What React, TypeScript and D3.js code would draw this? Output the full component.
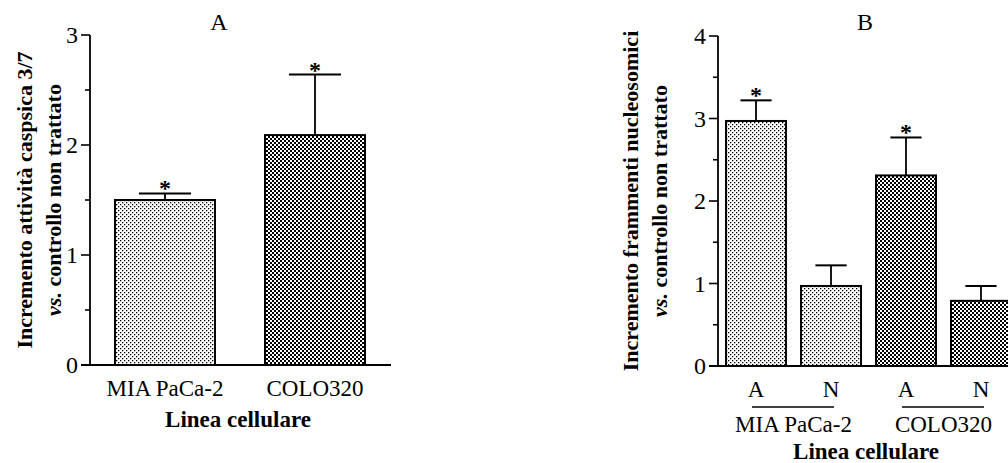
import React from "react";
import * as d3 from "d3";

// ---------- Data ----------
const catsA = ["MIA PaCa-2", "COLO320"];
const valuesA = [1.5, 2.09];
const errorsA = [0.06, 0.55];
const sigA = [true, true];
const patternsA = ["dots", "checks"];

const catsB = ["A", "N", "A", "N"];
const groupsB = ["MIA PaCa-2", "COLO320"];
const groupOfB = [0, 0, 1, 1];
const valuesB = [2.97, 0.97, 2.31, 0.79];
const errorsB = [0.25, 0.25, 0.46, 0.18];
const sigB = [true, false, true, false];
const patternsB = ["dots", "dots", "checks", "checks"];

const majorTicksA = [0, 1, 2, 3];
const minorTicksA = [0.5, 1.5, 2.5];
const majorTicksB = [0, 1, 2, 3, 4];
const minorTicksB = [0.5, 1.5, 2.5, 3.5];

const FONT = "'Liberation Serif', 'Times New Roman', Times, serif";
const FS = 23;
const FSB = 22;

function YAxis({ y, x0, majors, minors }: any) {
  return (
    <g>
      <line x1={x0} x2={x0} y1={y(majors[majors.length - 1])} y2={y(0)} stroke="#000" strokeWidth={1.8} />
      {majors.map((t: number) => (
        <g key={"M" + t}>
          <line x1={x0 - 9} x2={x0} y1={y(t)} y2={y(t)} stroke="#000" strokeWidth={1.6} />
          <text x={x0 - 12} y={y(t)} dy="0.35em" textAnchor="end" fontSize={FS + 1} fontFamily={FONT}>
            {t}
          </text>
        </g>
      ))}
      {minors.map((t: number) => (
        <line key={"m" + t} x1={x0 - 5} x2={x0} y1={y(t)} y2={y(t)} stroke="#000" strokeWidth={1.6} />
      ))}
    </g>
  );
}

function Bars({ x, y, values, errors, sig, patterns, prefix }: any) {
  const bw = x.bandwidth();
  return (
    <g>
      {values.map((v: number, i: number) => {
        const key = prefix + i;
        const bx = x(key) as number;
        const cx = bx + bw / 2;
        const top = y(v + errors[i]);
        const capHalf = bw * 0.26;
        return (
          <g key={key}>
            <rect
              x={bx}
              y={y(v)}
              width={bw}
              height={y(0) - y(v)}
              fill={`url(#pat-${patterns[i]})`}
              stroke="#000"
              strokeWidth={2}
            />
            <line x1={cx} x2={cx} y1={y(v)} y2={top} stroke="#000" strokeWidth={1.8} />
            <line x1={cx - capHalf} x2={cx + capHalf} y1={top} y2={top} stroke="#000" strokeWidth={2} />
            {sig[i] && (
              <text x={cx} y={top + 3} textAnchor="middle" fontSize={FS + 1} fontFamily={FONT} fontWeight="bold">
                *
              </text>
            )}
          </g>
        );
      })}
    </g>
  );
}

export default function App() {
  const W = 1008;
  const H = 463;

  // Panel A
  const axA = 90;
  const keysA = catsA.map((_, i) => "a" + i);
  const xA = d3.scaleBand<string>().domain(keysA).range([axA, 390]).paddingInner(1 / 3).paddingOuter(1 / 6);
  const yA = d3.scaleLinear().domain([0, 3]).range([365, 35]);

  // Panel B
  const axB = 718;
  const keysB = catsB.map((_, i) => "b" + i);
  const xB = d3.scaleBand<string>().domain(keysB).range([axB, 1019]).paddingInner(0.2).paddingOuter(0.107);
  const yB = d3.scaleLinear().domain([0, 4]).range([366, 36]);
  const bwB = xB.bandwidth();

  return (
    <svg
      width={W}
      height={H}
      viewBox={`0 0 ${W} ${H}`}
      style={{ position: "fixed", left: 0, top: 0, background: "#fff" }}
    >
      <defs>
        <pattern id="pat-dots" width={4} height={4} patternUnits="userSpaceOnUse">
          <rect width={4} height={4} fill="#fff" />
          <rect x={0} y={0} width={1.3} height={1.3} fill="#000" />
          <rect x={2} y={2} width={1.3} height={1.3} fill="#000" />
        </pattern>
        <pattern id="pat-checks" width={4} height={4} patternUnits="userSpaceOnUse">
          <rect width={4} height={4} fill="#fff" />
          <rect x={0} y={0} width={2} height={2} fill="#000" />
          <rect x={2} y={2} width={2} height={2} fill="#000" />
        </pattern>
      </defs>
      <rect width={W} height={H} fill="#fff" />

      {/* ===== Panel A ===== */}
      <text x={219} y={30} textAnchor="middle" fontSize={FS + 1} fontFamily={FONT}>
        A
      </text>
      <Bars x={xA} y={yA} values={valuesA} errors={errorsA} sig={sigA} patterns={patternsA} prefix="a" />
      <YAxis y={yA} x0={axA} majors={majorTicksA} minors={minorTicksA} />
      <line x1={axA - 9} x2={391} y1={yA(0)} y2={yA(0)} stroke="#000" strokeWidth={1.8} />
      {catsA.map((c, i) => (
        <text
          key={c}
          x={(xA("a" + i) as number) + xA.bandwidth() / 2}
          y={396}
          textAnchor="middle"
          fontSize={FS}
          fontFamily={FONT}
        >
          {c}
        </text>
      ))}
      <text x={238} y={427} textAnchor="middle" fontSize={FSB + 1} fontFamily={FONT} fontWeight="bold">
        Linea cellulare
      </text>
      <g transform={`translate(0, ${(yA(0) + yA(3)) / 2}) rotate(-90)`}>
        <text x={0} y={32} textAnchor="middle" fontSize={FSB} fontFamily={FONT} fontWeight="bold">
          Incremento attività caspsica 3/7
        </text>
        <text x={0} y={61} textAnchor="middle" fontSize={FSB} fontFamily={FONT} fontWeight="bold">
          <tspan fontStyle="italic">vs.</tspan>
          {"  controllo non trattato"}
        </text>
      </g>

      {/* ===== Panel B ===== */}
      <text x={865} y={30} textAnchor="middle" fontSize={FS + 1} fontFamily={FONT}>
        B
      </text>
      <Bars x={xB} y={yB} values={valuesB} errors={errorsB} sig={sigB} patterns={patternsB} prefix="b" />
      <YAxis y={yB} x0={axB} majors={majorTicksB} minors={minorTicksB} />
      <line x1={axB - 9} x2={W} y1={yB(0)} y2={yB(0)} stroke="#000" strokeWidth={1.8} />
      {catsB.map((c, i) => (
        <text
          key={"bl" + i}
          x={(xB("b" + i) as number) + bwB / 2}
          y={397}
          textAnchor="middle"
          fontSize={FS}
          fontFamily={FONT}
        >
          {c}
        </text>
      ))}
      {groupsB.map((g, gi) => {
        const idx = groupOfB.map((v, i) => (v === gi ? i : -1)).filter((i) => i >= 0);
        const first = (xB("b" + idx[0]) as number) + bwB / 2;
        const last = (xB("b" + idx[idx.length - 1]) as number) + bwB / 2;
        return (
          <g key={g}>
            <line x1={first - 4} x2={last + 3} y1={407} y2={407} stroke="#000" strokeWidth={1.4} />
            <text x={(first + last) / 2} y={432} textAnchor="middle" fontSize={FS} fontFamily={FONT}>
              {g}
            </text>
          </g>
        );
      })}
      <text x={866} y={459} textAnchor="middle" fontSize={FSB + 1} fontFamily={FONT} fontWeight="bold">
        Linea cellulare
      </text>
      <g transform={`translate(0, ${(yB(0) + yB(4)) / 2}) rotate(-90)`}>
        <text x={0} y={638} textAnchor="middle" fontSize={FSB} fontFamily={FONT} fontWeight="bold">
          Incremento frammenti nucleosomici
        </text>
        <text x={0} y={667} textAnchor="middle" fontSize={FSB} fontFamily={FONT} fontWeight="bold">
          <tspan fontStyle="italic">vs.</tspan>
          {"  controllo non trattato"}
        </text>
      </g>
    </svg>
  );
}
